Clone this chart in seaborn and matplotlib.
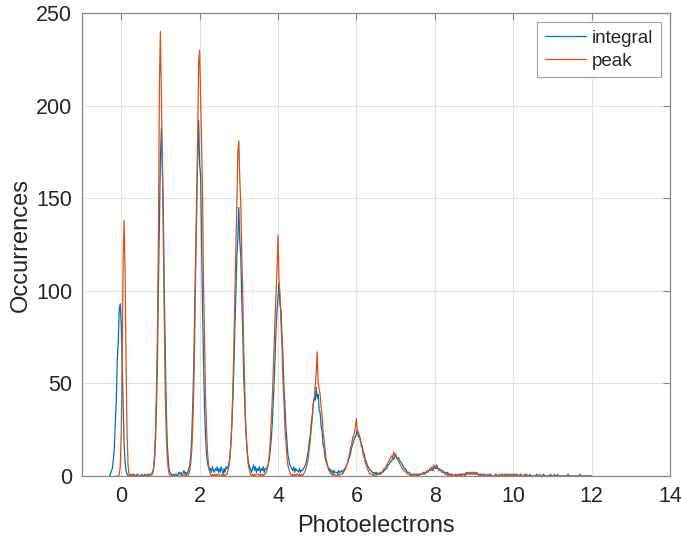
import numpy as np
import pandas as pd
import seaborn as sns
import matplotlib.pyplot as plt

# histogram of photoelectron counts, bins of 0.025 pe starting at -0.3
bin_start = -0.3
bin_width = 0.025
nan = np.nan

# integral method, one row per photoelectron bump
integral_counts = [
    0, 1, 3, 4, 9, 15, 29, 41, 62, 73, 90, 93, 82, 63, 38, 17, 7, 3, 1, 0, 0, 1, 0, 0, 0, 1, 0, 0, 0, 1, 0, 0,
    0, 1, 0, 0, 1, 0, 0, 1, 0, 1, 1, 1, 2, 4, 9, 19, 38, 63, 103, 138, 171, 188, 165, 143, 98, 66, 36, 17, 9, 3, 2, 1, 0, 1, 0, 1, 1, 0, 1, 2,
    1, 2, 0, 1, 3, 1, 2, 1, 2, 4, 6, 11, 21, 38, 60, 89, 121, 150, 171, 192, 168, 163, 126, 92, 62, 37, 22, 12, 7, 5, 3, 4, 2, 5, 3, 2, 4, 3, 5, 2,
    4, 2, 5, 3, 1, 4, 2, 5, 4, 5, 7, 11, 18, 28, 42, 59, 80, 98, 119, 128, 145, 127, 119, 95, 79, 54, 41, 26, 17, 11, 7, 5, 4, 2, 4, 6, 3, 5, 2, 4,
    3, 5, 2, 4, 3, 5, 2, 4, 4, 5, 6, 9, 13, 19, 27, 38, 50, 64, 80, 89, 96, 104, 93, 90, 77, 66, 49, 39, 27, 20, 12, 9, 6, 5, 4, 3, 5, 2, 4, 3,
    3, 2, 4, 2, 3, 3, 4, 5, 6, 8, 11, 14, 19, 22, 29, 33, 39, 42, 41, 48, 42, 44, 36, 34, 27, 24, 17, 15, 10, 8, 6, 5, 3, 4, 2, 3, 1, 3, 2, 2,
    2, 1, 3, 2, 2, 3, 2, 3, 4, 4, 6, 7, 9, 10, 12, 15, 17, 18, 21, 21, 23, 25, 21, 22, 19, 18, 16, 13, 12, 9, 8, 6, 5, 4, 3, 3, 2, 2, 1, 2,
    1, 2, 1, 1, 2, 1, 2, 2, 3, 3, 4, 4, 6, 6, 7, 8, 8, 10, 9, 10, 12, 10, 9, 10, 8, 8, 7, 6, 5, 4, 4, 3, 2, 2, 2, 1, 1, 0, 1, 1,
    1, 0, 1, 1, 0, 1, 1, 1, 1, 2, 1, 2, 2, 2, 3, 3, 3, 4, 3, 4, 5, 4, 6, 4, 4, 4, 3, 3, 3, 2, 2, 2, 1, 2, 1, 1, 1, 0, 1, 0,
    0, 1, 0, 0, 1, 0, 1, 0, 1, 1, 1, 0, 1, 2, 1, 1, 2, 1, 2, 1, 2, 1, 1, 2, 1, 0, 1, 1, 0, 1, 0, 1, 0, 0, 1, 0, 0, 1, 0, 0,
    0, 0, 1, 0, 0, 0, 1, 0, 0, 1, 0, 0, 1, 0, 1, 0, 0, 1, 0, 1, 0, 1, 0, 0, 1, 0, 0, 0, 1, 0, 0, 0, 1, 0, 0, 0, 0, 1, 0, 0,
    0, 0, 0, 0, 1, 0, 0, 0, 0, 0, 0, 1, 0, 0, 0, 0, 0, 0, 1, 0, 0, 0, 0, 0, 0, 1, 0, 0, 0, 0, 0, 0, 0, 0, 0, 0, 1, 0, 0, 0,
    0, 0, 0, 0, 0, 0, 0, 0, 1, 0, 0, 0, 0, 0, 0, 0, 0, 0, 0, 0, 0,
]

# peak-amplitude method
peak_counts = [
    nan, nan, nan, nan, nan, nan, nan, 0, 0, 0, 1, 5, 22, 61, 118, 138, 109, 60, 23, 6, 1, 0, 0, 1, 0, 0, 0, 0, 1, 0, 0, 0,
    0, 0, 0, 0, 0, 0, 1, 0, 0, 0, 0, 1, 1, 4, 11, 24, 47, 79, 131, 212, 240, 205, 170, 124, 83, 44, 22, 10, 4, 1, 0, 0, 1, 0, 0, 0, 0, 0, 0, 0,
    0, 0, 1, 0, 0, 0, 1, 0, 0, 1, 3, 7, 14, 26, 46, 74, 112, 141, 183, 223, 230, 205, 181, 152, 104, 76, 44, 27, 13, 7, 3, 1, 0, 1, 0, 1, 0, 1, 0, 1,
    1, 0, 0, 1, 0, 1, 0, 1, 1, 3, 5, 10, 18, 31, 48, 71, 97, 123, 146, 175, 181, 160, 148, 120, 99, 69, 49, 29, 19, 9, 5, 3, 1, 0, 1, 0, 1, 0, 1, 1,
    1, 0, 1, 0, 1, 0, 1, 1, 2, 4, 6, 11, 18, 28, 40, 54, 70, 85, 98, 112, 130, 106, 99, 83, 71, 52, 41, 27, 19, 11, 6, 4, 2, 1, 0, 1, 0, 1, 0, 1,
    1, 0, 1, 0, 1, 0, 1, 2, 3, 5, 7, 10, 15, 19, 26, 31, 39, 42, 49, 56, 67, 50, 47, 44, 37, 33, 24, 20, 14, 10, 7, 5, 3, 2, 1, 1, 0, 1, 1, 0,
    0, 1, 0, 1, 1, 1, 1, 2, 3, 4, 6, 7, 10, 12, 15, 17, 20, 22, 23, 27, 31, 24, 24, 21, 20, 16, 15, 11, 10, 7, 6, 4, 3, 2, 1, 1, 1, 0, 1, 0,
    0, 1, 1, 1, 1, 2, 2, 3, 4, 4, 5, 6, 7, 8, 9, 10, 11, 10, 13, 11, 11, 10, 9, 8, 7, 6, 5, 4, 3, 3, 2, 2, 1, 1, 1, 0, 1, 0, 1, 0,
    0, 1, 1, 0, 1, 1, 1, 1, 2, 1, 2, 2, 3, 3, 3, 4, 4, 5, 4, 6, 5, 5, 4, 4, 3, 3, 3, 2, 2, 2, 1, 1, 1, 0, 1, 0, 1, 1, 0, 0,
    0, 0, 1, 0, 0, 1, 0, 1, 0, 1, 1, 1, 2, 1, 2, 1, 1, 2, 1, 2, 1, 2, 1, 1, 1, 0, 1, 0, 1, 0, 0, 1, 0, 0, 0, 1, 0, 0, 0, 0,
    0, 0, 0, 1, 0, 0, 0, 0, 1, 0, 0, 1, 0, 0, 0, 1, 0, 1, 0, 0, 1, 0, 0, 1, 0, 0, 0, 1, 0, 0, 0, 0, 0, 0, 1, 0, 0, 0, 0, 0,
    0, 0, 0, 0, 0, 0, 0, 1, 0, 0, 0, 0, 0, 0, 0, 0, 0, 0, 0, 0, 0, 0, 1, 0, 0, 0, 0, 0, 0, 0, 0, 0, 0, 0, 0, 0, 0, 0, 0, 0,
    0, 0, 0, 0, 0, 0, 0, 0, 0, 0, 0, 0, 0, 0, 0, 0, 0, 0, 0, 0, 0,
]

series_names = ['integral', 'peak']
colors = ['#0072BD', '#D95319']
x_ticks = [0, 2, 4, 6, 8, 10, 12, 14]
y_ticks = [0, 50, 100, 150, 200, 250]

pe = bin_start + bin_width * np.arange(len(integral_counts))
df = pd.concat([
    pd.DataFrame({'pe': pe, 'count': integral_counts, 'series': series_names[0]}),
    pd.DataFrame({'pe': pe, 'count': peak_counts, 'series': series_names[1]}),
], ignore_index=True)

sns.set_style('white')
plt.rcParams['font.family'] = ['Liberation Sans', 'DejaVu Sans']

fig = plt.figure(figsize=(6.81, 5.39), dpi=100)
ax = fig.add_axes([82 / 681, 1 - 476 / 539, 588 / 681, 463 / 539])

sns.lineplot(data=df, x='pe', y='count', hue='series', palette=colors,
             estimator=None, sort=False, lw=0.9, ax=ax)

ax.set_xlim(-1, 14)
ax.set_ylim(0, 250)
ax.set_xticks(x_ticks)
ax.set_yticks(y_ticks)
ax.grid(True, color='#e3e3e3', lw=0.8)
ax.set_axisbelow(True)
for s in ax.spines.values():
    s.set_color('#8a8a8a')
    s.set_linewidth(0.9)
ax.tick_params(direction='in', top=True, right=True, length=5, width=0.8,
               color='#8a8a8a', labelsize=15.5, labelcolor='#262626', pad=7)
ax.set_xlabel('Photoelectrons', fontsize=17, color='#262626', labelpad=6)
ax.set_ylabel('Occurrences', fontsize=17, color='#262626', labelpad=3)

leg = ax.legend(loc='upper right', fontsize=13.5, frameon=True, fancybox=False,
                handlelength=2.2, handletextpad=0.3, borderpad=0.4,
                labelspacing=0.3, borderaxespad=0.5)
leg.get_frame().set_edgecolor('#8a8a8a')
leg.get_frame().set_linewidth(0.8)

fig.savefig('out.png', dpi=100)
